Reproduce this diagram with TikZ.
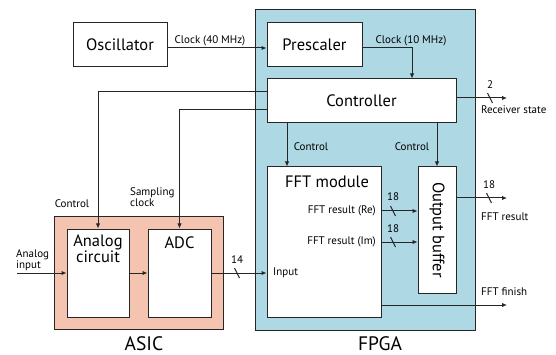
\documentclass[tikz,border=0pt]{standalone}
\usepackage{fontspec}
\setmainfont{PT Sans}
\usetikzlibrary{arrows.meta}
\definecolor{fpgablue}{RGB}{173,216,228}
\definecolor{asicpink}{RGB}{244,196,176}
\tikzset{
  box/.style={draw=black!85, line width=1pt, fill=white, inner sep=0pt, font=\fontsize{16.5}{16.5}\selectfont},
  chip/.style={draw=black!85, line width=1pt, inner sep=0pt},
  arr/.style={draw=black!85, line width=1pt, -{Latex[length=5pt,width=4.5pt]}},
  wire/.style={draw=black!85, line width=1pt},
  lbl/.style={inner sep=0pt, font=\fontsize{11}{11}\selectfont},
  big/.style={inner sep=0pt, anchor=base, font=\fontsize{19.5}{19.5}\selectfont},
}
\begin{document}
\begin{tikzpicture}[x=1pt,y=-1pt]
\useasboundingbox (0,0) rectangle (556,355);
% containers
\node[chip, fill=fpgablue, minimum width=220, minimum height=320] (fpga) at (365,170) {};
\node[chip, fill=asicpink, minimum width=169, minimum height=112] (asic) at (138.5,273) {};
\node[big] (fpgalbl) at (380,350) {FPGA};
\node[big] (asiclbl) at (144,350) {ASIC};
% blocks
\node[box, minimum width=94, minimum height=44] (osc) at (120,45) {Oscillator};
\node[box, minimum width=95, minimum height=44] (presc) at (314.5,45) {Prescaler};
\node[box, minimum width=189, minimum height=44] (ctrl) at (361.5,101) {Controller};
\node[box, minimum width=114, minimum height=150] (fft) at (324,242) {};
\node[box, inner sep=0pt] (fftlbl) at (327,182) [draw=none, fill=none] {FFT module};
\node[box, minimum width=38, minimum height=126] (ob) at (437,230) {};
\node[box, draw=none, fill=none, rotate=-90] (oblbl) at (437,230) {Output buffer};
\node[box, minimum width=62, minimum height=88] (analog) at (98,273) {};
\node[box, draw=none, fill=none, align=center, font=\fontsize{16.5}{13}\selectfont] (anlbl) at (98,249) {Analog\\circuit};
\node[box, minimum width=63, minimum height=88] (adc) at (179.5,273) {};
\node[box, draw=none, fill=none] (adclbl) at (179.5,243) {ADC};
% free ends
\coordinate (ain) at (17,273);
\coordinate (rsout) at (507,98);
\coordinate (resout) at (507,198);
\coordinate (finout) at (507,305);
% connectors
\draw[arr] ([yshift=-3pt]osc.east) -- ([yshift=-3pt]presc.west);
\draw[arr] ([yshift=-3pt]presc.east) -| ([xshift=50.5pt]ctrl.north);
\draw[arr] ([yshift=9pt]ctrl.west) -| (analog.north);
\draw[arr] ([yshift=-9pt]ctrl.west) -| (adc.north);
\draw[arr] ([xshift=-37pt]fft.north |- ctrl.south) -- ([xshift=-37pt]fft.north);
\draw[arr] (ob.north |- ctrl.south) -- (ob.north);
\draw[arr] ([yshift=3pt]ctrl.east) -- (rsout);
\draw[arr] (ain) -- (analog.west);
\draw[arr] (analog.east) -- (adc.west);
\draw[arr] (adc.east) -- (adc.east -| fft.west);
% labels
\node[lbl] (l40) at (210,41) {Clock (40 MHz)};
\node[lbl] (l10) at (411,41) {Clock (10 MHz)};
\node[lbl] (lrs2) at (490,85) {2};
\node[lbl, anchor=west] (lrs) at (481,110) {Receiver state};
\node[lbl] (lc1) at (311,147) {Control};
\node[lbl] (lc2) at (412,147) {Control};
\node[lbl, anchor=east] (lre) at (376,211) {FFT result (Re)};
\node[lbl, anchor=east] (lim) at (376,242) {FFT result (Im)};
\node[lbl] (n18a) at (393,197) {18};
\node[lbl] (n18b) at (393,229) {18};
\node[lbl, anchor=west] (linput) at (273,273) {Input};
\node[lbl] (n18c) at (489,185) {18};
\node[lbl, anchor=west] (lres) at (481,217) {FFT result};
\node[lbl, anchor=west] (lfin) at (481,292) {FFT finish};
\node[lbl] (lctl) at (72,204) {Control};
\node[lbl, anchor=west, align=left, font=\fontsize{11}{11}\selectfont] (lsamp) at (130,197.5) {Sampling\\clock};
\node[lbl, anchor=west, align=left, font=\fontsize{11}{10}\selectfont] (lain) at (16,260) {Analog\\input};
\node[lbl] (n14) at (237,260) {14};
% data paths from FFT
\draw[arr] (lre.east -| fft.east) -- (lre.east -| ob.west);
\draw[arr] (lim.east -| fft.east) -- (lim.east -| ob.west);
\draw[arr] (resout -| ob.east) -- (resout);
\draw[arr] (finout -| fft.east) -- (finout);
% bus slashes
\draw[wire] ([xshift=-2.5pt,yshift=5pt]lrs2.south |- rsout) -- ([xshift=2.5pt,yshift=-5pt]lrs2.south |- rsout);
\draw[wire] ([xshift=-2.5pt,yshift=5pt]n18a.south |- lre.east) -- ([xshift=2.5pt,yshift=-5pt]n18a.south |- lre.east);
\draw[wire] ([xshift=-2.5pt,yshift=5pt]n18b.south |- lim.east) -- ([xshift=2.5pt,yshift=-5pt]n18b.south |- lim.east);
\draw[wire] ([xshift=-2.5pt,yshift=5pt]n18c.south |- resout) -- ([xshift=2.5pt,yshift=-5pt]n18c.south |- resout);
\draw[wire] ([xshift=-2.5pt,yshift=5pt]n14.south |- adc.east) -- ([xshift=2.5pt,yshift=-5pt]n14.south |- adc.east);
\end{tikzpicture}
\end{document}
